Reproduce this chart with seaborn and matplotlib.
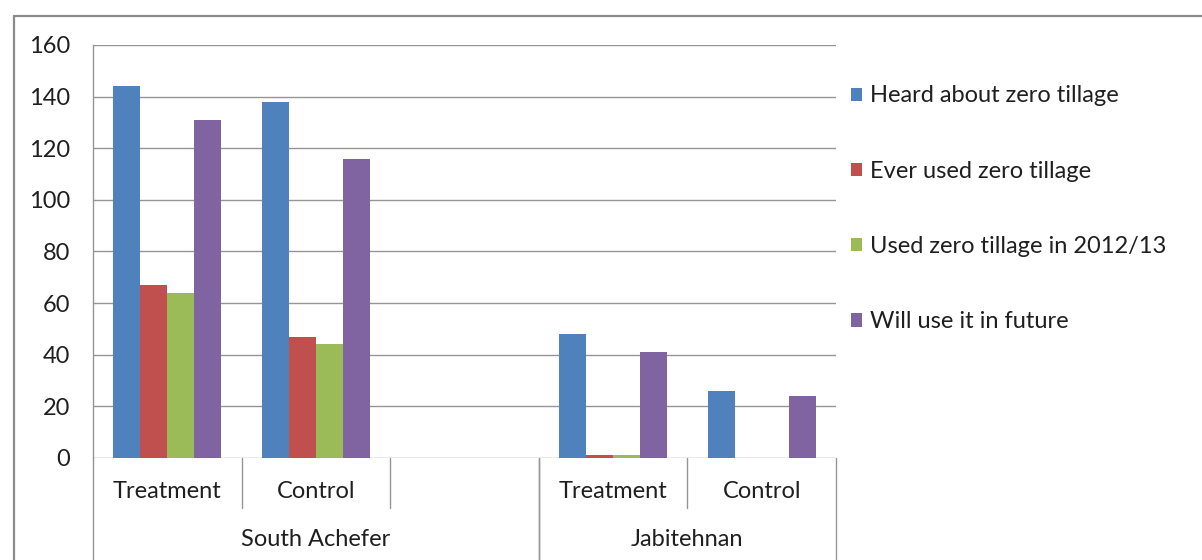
import matplotlib
matplotlib.use("Agg")
import matplotlib.pyplot as plt
from matplotlib.lines import Line2D
from matplotlib.transforms import blended_transform_factory
import numpy as np
import pandas as pd
import seaborn as sns

# ---- data ----
districts = ["South Achefer", "South Achefer", "South Achefer", "Jabitehnan", "Jabitehnan"]
groups = ["Treatment", "Control", "", "Treatment", "Control"]
series_names = ["Heard about zero tillage", "Ever used zero tillage",
                "Used zero tillage in 2012/13", "Will use it in future"]
heard = [144, 138, None, 48, 26]
ever_used = [67, 47, None, 1, 0]
used_2012 = [64, 44, None, 1, 0]
will_use = [131, 116, None, 41, 24]
y_ticks = [0, 20, 40, 60, 80, 100, 120, 140, 160]

colors = ["#4F81BD", "#C0504D", "#9BBB59", "#8064A2"]

slots = [f"{d}|{g}|{i}" for i, (d, g) in enumerate(zip(districts, groups))]
rows = []
for name, vals in zip(series_names, [heard, ever_used, used_2012, will_use]):
    for slot, v in zip(slots, vals):
        if v is not None:
            rows.append({"slot": slot, "series": name, "value": v})
df = pd.DataFrame(rows)

sns.set_theme(style="white")
plt.rcParams["font.family"] = ["Lato", "DejaVu Sans"]
text_color = "#1f1f1f"
line_color = "#959595"
fs = 17

fig = plt.figure(figsize=(12.02, 5.60), dpi=100)
W, H = 1202, 560
left, right, top, bottom = 93, 836, 45, 458
ax = fig.add_axes([left / W, 1 - bottom / H, (right - left) / W, (bottom - top) / H])

sns.barplot(data=df, x="slot", y="value", hue="series", order=slots,
            hue_order=series_names, palette=colors, width=0.727, gap=0,
            linewidth=0, saturation=1, errorbar=None, legend=False, ax=ax)

ax.set_xlim(-0.5, len(slots) - 0.5)
ax.set_ylim(0, 160)
ax.set_yticks(y_ticks)
ax.set_yticklabels([str(t) for t in y_ticks], fontsize=fs, color=text_color)
ax.tick_params(axis="y", direction="out", length=6.5, width=1.0, color=line_color, pad=10)
ax.tick_params(axis="x", length=0, labelbottom=False)
ax.set_xlabel("")
ax.set_ylabel("")
ax.yaxis.grid(True, color=line_color, linewidth=1.0)
ax.set_axisbelow(True)
for side in ["top", "right", "bottom"]:
    ax.spines[side].set_visible(False)
ax.spines["left"].set_color(line_color)
ax.spines["left"].set_linewidth(1.0)

# ---- multi-level category axis ----
trans = blended_transform_factory(ax.transData, ax.transAxes)
axis_h = bottom - top
lvl1_y = -(491 - bottom) / axis_h
lvl1_sep = -(508 - bottom) / axis_h
lvl2_y = -(540 - bottom) / axis_h
lvl2_sep = -(H - bottom) / axis_h

for i, g in enumerate(groups):
    if g:
        ax.text(i, lvl1_y, g, transform=trans, ha="center", va="center",
                fontsize=fs, color=text_color)

# district spans
spans = []
start = 0
for i in range(1, len(districts) + 1):
    if i == len(districts) or districts[i] != districts[start]:
        spans.append((districts[start], start, i - 1))
        start = i
for name, a, b in spans:
    ax.text((a + b) / 2, lvl2_y, name, transform=trans, ha="center", va="center",
            fontsize=fs, color=text_color)
    for edge in (a - 0.5, b + 0.5):
        ax.add_line(Line2D([edge, edge], [0, lvl2_sep], transform=trans,
                           color=line_color, linewidth=1.0, clip_on=False))
    for k in range(a, b):
        ax.add_line(Line2D([k + 0.5, k + 0.5], [0, lvl1_sep], transform=trans,
                           color=line_color, linewidth=1.0, clip_on=False))

# ---- legend ----
handles = [plt.Rectangle((0, 0), 1, 1, facecolor=c, edgecolor="none") for c in colors]
fig.legend(handles, series_names, loc="upper left",
           bbox_to_anchor=(851 / W, 1 - 85.5 / H), frameon=False, fontsize=fs,
           handlelength=0.48, handleheight=0.48, handletextpad=0.33,
           labelspacing=2.30, labelcolor=text_color, borderaxespad=0, borderpad=0)

# ---- chart frame ----
fig.add_artist(Line2D([13.5 / W, 13.5 / W], [0, 1 - 15.5 / H], color="#8a8a8a",
                      linewidth=1.6, transform=fig.transFigure))
fig.add_artist(Line2D([13.5 / W, 1], [1 - 15.5 / H, 1 - 15.5 / H], color="#8a8a8a",
                      linewidth=1.6, transform=fig.transFigure))

fig.savefig("out.png", dpi=100, facecolor="white")
